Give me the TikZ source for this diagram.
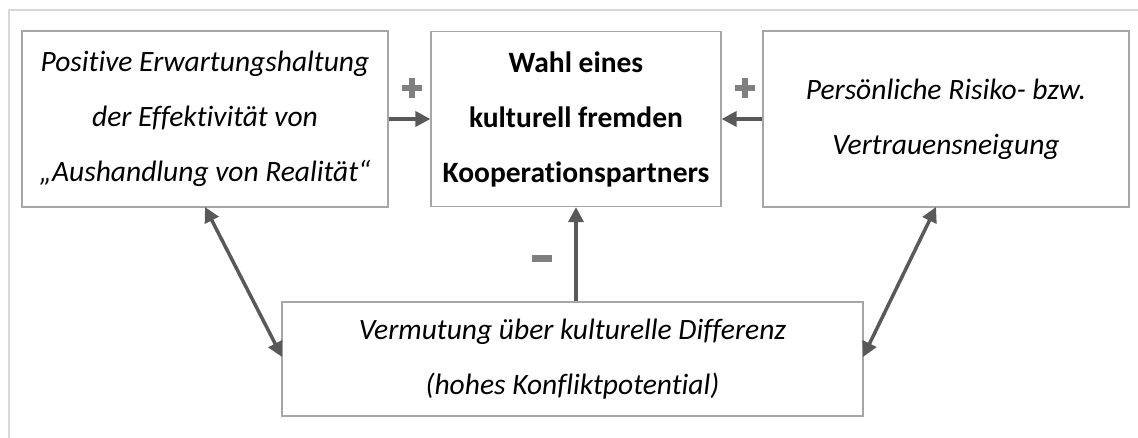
\documentclass[tikz,border=0pt]{standalone}
\usepackage{fontspec}
\setmainfont[Ligatures=NoCommon]{Carlito}
\usetikzlibrary{arrows.meta}
\definecolor{boxgray}{HTML}{A6A6A6}
\definecolor{framegray}{HTML}{D9D9D9}
\definecolor{arrowgray}{HTML}{595959}
\definecolor{signgray}{HTML}{7F7F7F}
\tikzset{
  box/.style={draw=boxgray, line width=1.2pt, fill=white, inner sep=0pt, align=center,
    font=\fontsize{29.5}{55}\selectfont\itshape},
  conn/.style={draw=arrowgray, line width=3.5pt, -{Triangle[length=15pt,width=15pt]}},
  dconn/.style={draw=arrowgray, line width=3.5pt, {Triangle[length=15pt,width=15pt]}-{Triangle[length=15pt,width=15pt]}},
  sign/.style={text=signgray, inner sep=0pt}
}
\newcommand{\plussign}{\rule[7pt]{20pt}{6pt}\hspace{-13pt}\rule{6pt}{20pt}\hspace{7pt}}
\begin{document}
\begin{tikzpicture}[x=1pt,y=-1pt]
\useasboundingbox (0,0) rectangle (1138,438);
\draw[framegray, line width=1.5pt] (9,438) -- (9,10) -- (1138,10);
\node[box, minimum width=366pt, minimum height=176pt] (a) at (205,119)
  {Positive Erwartungshaltung\\der Effektivität von\\„Aushandlung von Realität“};
\node[box, minimum width=290pt, minimum height=175pt, font=\fontsize{29.5}{55}\selectfont\bfseries] (b) at (576,119)
  {Wahl eines\\kulturell fremden\\Kooperationspartners};
\node[box, minimum width=366pt, minimum height=176pt] (c) at (946,119)
  {Persönliche Risiko- bzw.\\Vertrauensneigung};
\node[box, minimum width=581pt, minimum height=114pt] (d) at (572.5,359)
  {Vermutung über kulturelle Differenz\\(hohes Konfliktpotential)};
\draw[conn] (a.east |- 0,119) -- (b.west |- 0,119);
\draw[conn] (c.west |- 0,119) -- (b.east |- 0,119);
\draw[conn] (d.north -| 576,0) -- (b.south -| 576,0);
\coordinate (a1) at (205,207);
\coordinate (d1) at (282,357);
\coordinate (c1) at (936,207);
\coordinate (d2) at (863,357);
\draw[dconn] (a1) -- (d1);
\draw[dconn] (c1) -- (d2);
\node[sign] (p1) at (408,88) {\plussign};
\node[sign] (p2) at (741,88) {\plussign};
\node[sign] (m1) at (542,259) {\rule{20pt}{7pt}};
\end{tikzpicture}
\end{document}
